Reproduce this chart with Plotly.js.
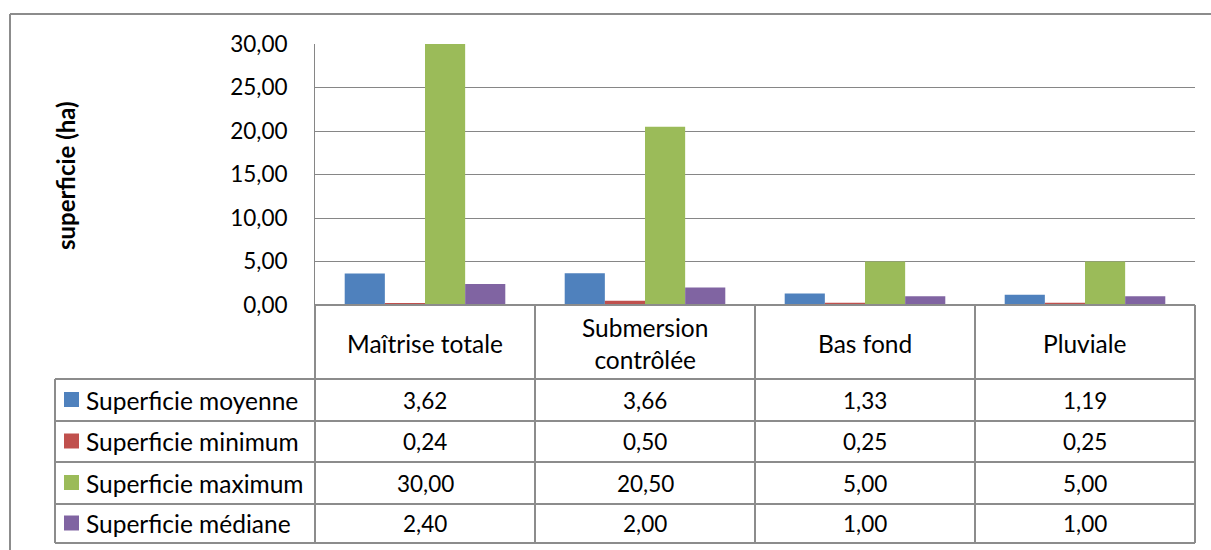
<!DOCTYPE html>
<html>
<head>
<meta charset="utf-8">
<script src="https://cdn.plot.ly/plotly-3.0.1.min.js"></script>
<style>html,body{margin:0;padding:0;background:#fff;}#chart{width:1211px;height:550px;}</style>
</head>
<body>
<div id="chart"></div>
<script>
// ---- data ----
const categories = ["Maîtrise totale", "Submersion<br>contrôlée", "Bas fond", "Pluviale"];
const seriesNames = ["Superficie moyenne", "Superficie minimum", "Superficie maximum", "Superficie médiane"];
const moyenne = [3.62, 3.66, 1.33, 1.19];
const minimum = [0.24, 0.50, 0.25, 0.25];
const maximum = [30.00, 20.50, 5.00, 5.00];
const mediane = [2.40, 2.00, 1.00, 1.00];
const yTicks = [0, 5, 10, 15, 20, 25, 30];
const yTitle = "superficie (ha)";

const seriesValues = [moyenne, minimum, maximum, mediane];
const colors = ["#4F81BD", "#C0504D", "#9BBB59", "#8064A2"];
const FONT = "Lato, 'Open Sans', sans-serif";
const GRID = "#868686";
const BORDER = "#8c8c8c";
const TXT = 24.5, NUM = 22.5;

// plot area in pixels
const PL = 315, PR = 1195, PT = 44, PB = 305;
const W = 1211, H = 550;
const px = x => (x - PL) / (PR - PL);
const py = y => (PB - y) / (PB - PT);

const catIdx = categories.map((c, i) => i);

const traces = seriesValues.map((vals, s) => ({
  type: "bar",
  name: seriesNames[s],
  x: catIdx,
  y: vals,
  marker: { color: colors[s] },
  hoverinfo: "y"
}));

const shapes = [];
const annotations = [];
function line(x0, y0, x1, y1, color, w) {
  shapes.push({ type: "line", xref: "paper", yref: "paper",
    x0: px(x0), y0: py(y0), x1: px(x1), y1: py(y1),
    line: { color: color, width: w } });
}

// outer chart border (left + top)
line(10, 14, 1230, 14, BORDER, 2);
line(10, 14, 10, 560, BORDER, 2);

// table geometry
const colX = [315, 535, 755, 975, 1195];
const legendLeft = 55;
const headerBottom = 379;
const rowY = [379, 421, 462, 504, 543];

// header row verticals
colX.forEach(x => line(x, PB, x, headerBottom, BORDER, 2));
// legend rows verticals
[legendLeft].concat(colX).forEach(x => line(x, headerBottom, x, rowY[rowY.length - 1], BORDER, 2));
// horizontal lines
line(PL, PB, PR, PB, BORDER, 2);
rowY.forEach(y => line(legendLeft, y, PR, y, BORDER, 2));

// category labels
categories.forEach((c, i) => {
  annotations.push({ xref: "paper", yref: "paper",
    x: px((colX[i] + colX[i + 1]) / 2), y: py((PB + headerBottom) / 2 + 1),
    text: c, showarrow: false, xanchor: "center", yanchor: "middle",
    font: { family: FONT, size: TXT, color: "#000" } });
});

// legend + values
seriesNames.forEach((n, s) => {
  const yc = (rowY[s] + rowY[s + 1]) / 2;
  shapes.push({ type: "rect", xref: "paper", yref: "paper",
    x0: px(64), x1: px(79), y0: py(yc - 8), y1: py(yc + 7),
    fillcolor: colors[s], line: { width: 0 } });
  annotations.push({ xref: "paper", yref: "paper", x: px(84), y: py(yc),
    text: n, showarrow: false, xanchor: "left", yanchor: "middle",
    font: { family: FONT, size: TXT, color: "#000" } });
  seriesValues[s].forEach((v, i) => {
    annotations.push({ xref: "paper", yref: "paper",
      x: px((colX[i] + colX[i + 1]) / 2), y: py(yc),
      text: v.toFixed(2).replace(".", ","), showarrow: false,
      xanchor: "center", yanchor: "middle",
      font: { family: FONT, size: NUM, color: "#000" } });
  });
});

// y axis title
annotations.push({ xref: "paper", yref: "paper", x: px(65), y: py(175),
  text: "<b>" + yTitle + "</b>", textangle: -90, showarrow: false,
  xanchor: "center", yanchor: "middle",
  font: { family: FONT, size: 24, color: "#000" } });

const layout = {
  width: W, height: H, autosize: false,
  margin: { l: PL, r: W - PR, t: PT, b: H - PB, pad: 0 },
  paper_bgcolor: "#fff", plot_bgcolor: "#fff",
  separators: ", ",
  barmode: "group", bargap: 0.27, bargroupgap: 0,
  showlegend: false,
  xaxis: { type: "linear", range: [-0.5, 3.5], showticklabels: false, showgrid: false,
    zeroline: false, showline: false, ticks: "", fixedrange: true },
  yaxis: { range: [0, 30], tickvals: yTicks, tickformat: ".2f", showgrid: true,
    gridcolor: GRID, gridwidth: 1, zeroline: false, showline: true, linecolor: GRID,
    linewidth: 1, ticks: "", ticklabelstandoff: 22,
    tickfont: { family: FONT, size: NUM, color: "#000" }, fixedrange: true },
  shapes: shapes,
  annotations: annotations
};

Plotly.newPlot("chart", traces, layout, { displayModeBar: false, staticPlot: true });
</script>
</body>
</html>
